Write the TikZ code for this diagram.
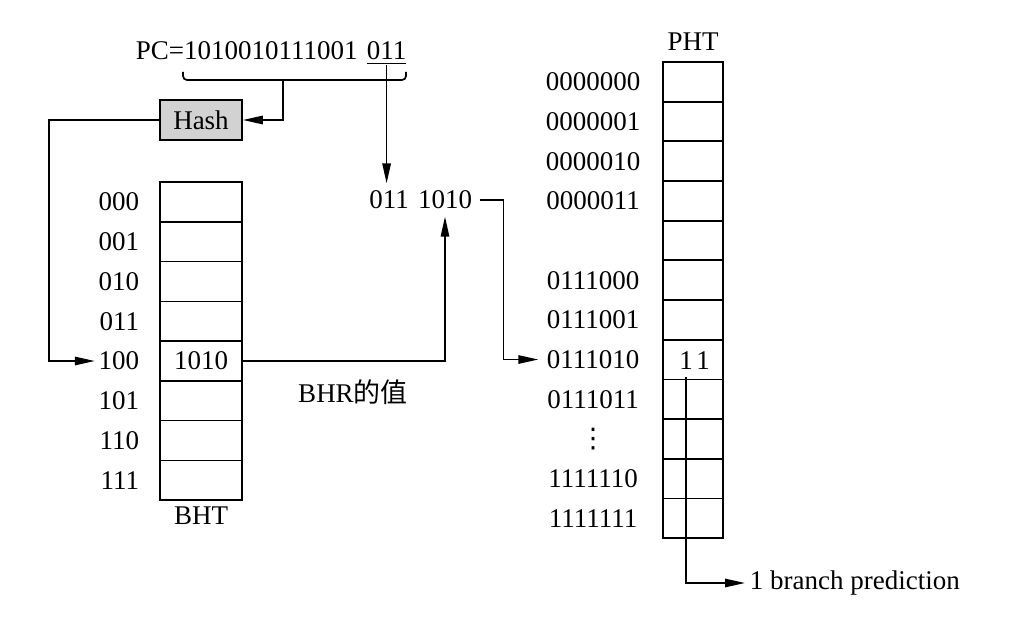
\documentclass[tikz,border=0pt]{standalone}
\usepackage{fontspec}
\setmainfont{Liberation Serif}
\newfontfamily\cjk{Noto Sans CJK SC}
\newfontfamily\symf{DejaVu Sans}
\usetikzlibrary{arrows.meta,positioning}

\begin{document}
\begin{tikzpicture}[x=0.5pt,y=-0.5pt,
    font=\fontsize{13.5}{16}\selectfont,
    line width=0.85pt,
    arr/.style={-{Triangle[length=10pt,width=4.2pt]}},
    bhtcell/.style={draw, minimum width=41pt, minimum height=19.875pt, inner sep=0pt, outer sep=0pt},
    phtcell/.style={draw, minimum width=30pt, minimum height=19.835pt, inner sep=0pt, outer sep=0pt},
    bhtlab/.style={inner sep=1.5pt},
    phtlab/.style={inner sep=0pt, minimum width=54pt},
    hashbox/.style={draw, fill=gray!35, minimum width=41pt, minimum height=20pt, inner sep=0pt}
]
    \useasboundingbox (0,0) rectangle (1034,620);
    % PC and the brace under its bits
    \node[anchor=base west, inner sep=0pt] (pc) at (135,60) {PC=1010010111001};
    \node[anchor=base west, inner sep=0pt] (pclow) at (366,60) {\underline{011}};
    \coordinate (brl) at (183,72);
    \coordinate (brr) at (406,72);
    \coordinate (bmid) at (283,80);
    \draw[rounded corners=2pt] (brl) -- (brl |- bmid) -- (brr |- bmid) -- (brr);
    \node[hashbox] (hash) at (201,120) {Hash};
    \draw[arr] (bmid) |- (hash.east);

    % Left table: BHT
    \foreach \i/\lab in {0/000,1/001,2/010,3/011,4/100,5/101,6/110,7/111} {
        \node[bhtcell] (bht\i) at (201,{202+39.75*\i}) {};
        \node[bhtlab, left=8.5pt of bht\i] (bhtl\i) {\lab};
    }
    \node (bhtval) at (bht4) {1010};
    \node[inner sep=1pt, below=2pt of bht7] (bhtname) {BHT};
    \draw[arr] (hash.west) -- ++(-110,0) |- (bhtl4.west);

    % Index built from PC bits and BHR
    \node (idxa) at (389,200) {011};
    \node (idxb) at (445,200) {1010};
    \draw[arr] (pclow.south) -- (pclow.south |- idxa.north);
    \draw[arr] (bht4.east) -| (idxb.south);
    \node (bhrlab) at (353,392) {BHR{\cjk 的值}};

    % Right table: PHT
    \foreach \i/\lab in {0/0000000,1/0000001,2/0000010,3/0000011,4/{},5/0111000,6/0111001,7/0111010,8/0111011,9/{\symf ⋮},10/1111110,11/1111111} {
        \node[phtcell] (pht\i) at (693,{81.83+39.67*\i}) {};
        \node[phtlab, left=7.5pt of pht\i] (phtl\i) {\lab};
    }
    \node[inner sep=1pt, above=4.5pt of pht0] (phtname) {PHT};
    \draw[arr] (idxb.east) -- ++(24,0) |- (phtl7.west);
    \node (p1) at (686,361) {1};
    \node (p2) at (703,361) {1};
    \node[anchor=west, inner sep=2pt] (pred) at (745,583) {1 branch prediction};
    \draw[arr] (p1.south) |- (pred.west);
\end{tikzpicture}
\end{document}
